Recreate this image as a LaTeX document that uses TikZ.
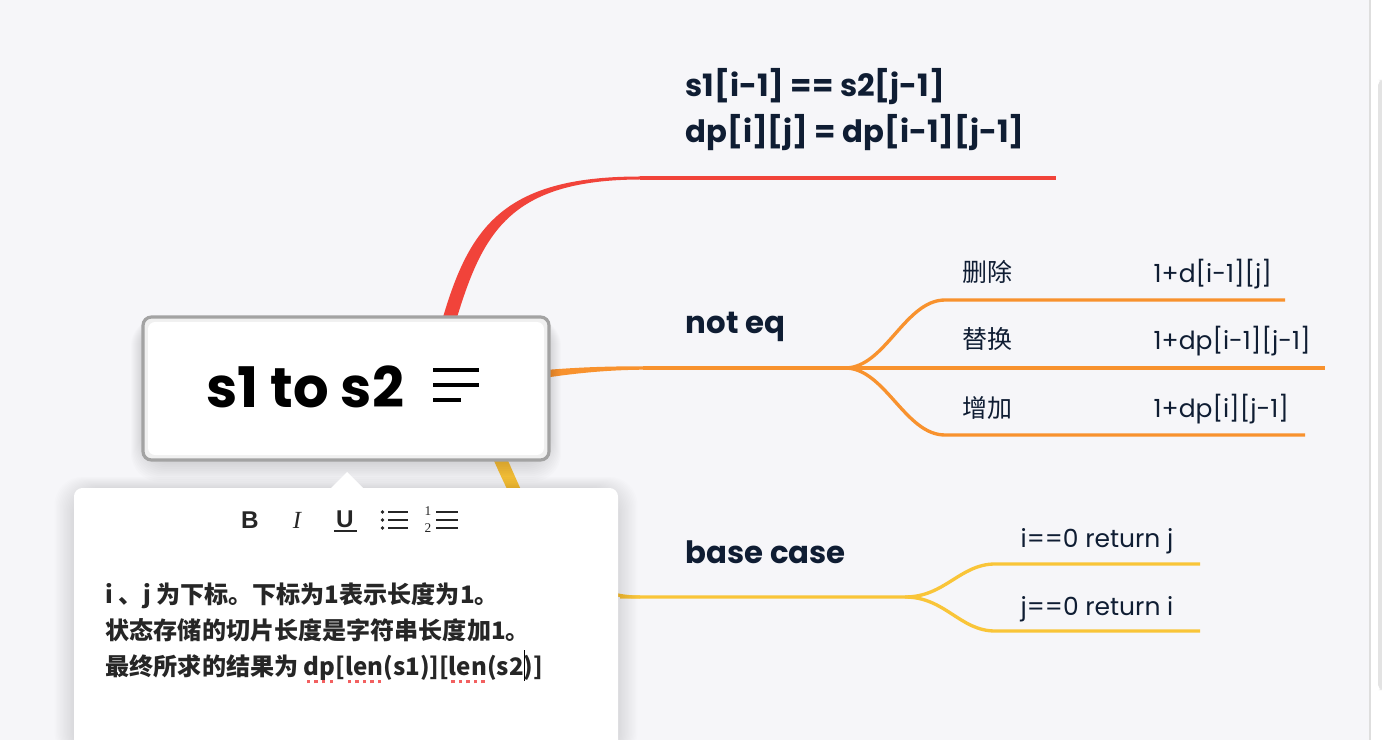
\documentclass[tikz,border=0pt]{standalone}
\usepackage{fontspec}
\setmainfont{Poppins}
\newfontfamily\cjk{Noto Sans CJK SC}
\newfontfamily\uisans{Liberation Sans}
\newfontfamily\uiserif{Liberation Serif}
\usetikzlibrary{positioning}
\definecolor{bgc}{HTML}{F6F6F9}
\definecolor{redc}{HTML}{F1433A}
\definecolor{orangec}{HTML}{F8922E}
\definecolor{yellowc}{HTML}{F9C539}
\definecolor{inkc}{HTML}{0F1D33}
\definecolor{framec}{HTML}{A3A3A3}
\definecolor{typored}{HTML}{F26060}

% spell-check dots under a word
\newcommand\typo[1]{\setbox0=\hbox{#1}\rlap{\raisebox{-2.4pt}{\color{typored}\hbox to \wd0{\xleaders\hbox to 1.9pt{\hss\vrule width 1pt height 1pt\hss}\hfil}}}\box0}
\newcommand\caret{\rlap{\color{black}\vrule width 0.3pt height 7pt depth 1.6pt}}

\tikzset{
  heading/.style={anchor=base west, inner sep=0, text=inkc, font=\fontsize{8.75}{11}\selectfont\bfseries},
  leaf/.style={anchor=base west, inner sep=0, text=inkc, font=\fontsize{7.1}{9}\selectfont},
  note/.style={anchor=base west, inner sep=0, text=black!85, font=\cjk\bfseries\fontsize{6.85}{9}\selectfont},
  tool/.style={inner sep=0, text=black!85},
  branch/.style={line width=0.95pt},
}

\begin{document}
\begin{tikzpicture}[x=0.01cm, y=-0.01cm]
\useasboundingbox (0,0) rectangle (1382,740);
% canvas and scroll bar
\fill[bgc] (0,0) rectangle (1370,740);
\fill[white!97!bgc] (1370,0) rectangle (1382,740);
\draw[black!13, line width=0.3pt] (1370,0) -- (1370,740);
\fill[black!11, rounded corners=1.5pt] (1378,80) rectangle (1384,690);

% branch points
\coordinate (eqa) at (640,178);
\coordinate (eqb) at (1056,178);
\coordinate (neqa) at (643,368);
\coordinate (neqfork) at (845,368);
\coordinate (basea) at (620,597);
\coordinate (basefork) at (905,597);

% red branch
\fill[redc] (441,324) .. controls (468,230) and (500,176.5) .. (640,176.5)
  -- (640,179.5) .. controls (508,180) and (482,234) .. (455,324) -- cycle;
\draw[redc, branch] (eqa) -- (eqb);

% orange branch
\fill[orangec] (540,370.5) .. controls (580,367) and (610,366.3) .. (643,366.3)
  -- (643,369.7) .. controls (610,370) and (580,372.5) .. (540,378.5) -- cycle;
\draw[orangec, branch] (neqa) -- (1325,368);
\draw[orangec, branch] (neqfork) .. controls (885,368) and (905,300) .. (945,300) -- (1285,300);
\draw[orangec, branch] (neqfork) .. controls (885,368) and (905,435) .. (945,435) -- (1305,435);

% yellow branch
\fill[yellowc] (501,445) .. controls (535,520) and (560,595.5) .. (640,595.5)
  -- (640,598.5) .. controls (555,599) and (520,520) .. (487,445) -- cycle;
\draw[yellowc, branch] (basea) -- (basefork) .. controls (945,597) and (960,564) .. (995,564) -- (1200,564);
\draw[yellowc, branch] (basefork) .. controls (945,597) and (960,631) .. (995,631) -- (1200,631);

% root topic
\foreach \s in {1,...,12}
  \fill[black, opacity=0.012, rounded corners=8pt] (143-\s,318) rectangle (549+\s,460+1.8*\s);
\draw[framec, line width=0.9pt, fill=black!6, rounded corners=2.4pt] (143,317) rectangle (549,460);
\fill[white, rounded corners=2pt] (148,322) rectangle (544,455);
\node[anchor=base west, inner sep=0, font=\fontsize{15.9}{18}\selectfont\bfseries] (root) at (206,407) {s1 to s2};
\foreach \y/\len in {370/479, 385/479, 400/461}
  \draw[line width=1pt] (433,\y) -- (\len,\y);

% labels
\node[heading] (eq1) at (685,97) {s1[i-1] == s2[j-1]};
\node[heading] (eq2) at (685,143) {dp[i][j] = dp[i-1][j-1]};
\node[heading] (neq) at (685,334) {not eq};
\node[heading] (base) at (685,563) {base case};
\node[leaf] (del) at (962,282) {\cjk 删除};
\node[leaf] (delv) at (1153,283) {1+d[i-1][j]};
\node[leaf] (rep) at (962,349) {\cjk 替换};
\node[leaf] (repv) at (1153,350) {1+dp[i-1][j-1]};
\node[leaf] (add) at (962,417) {\cjk 增加};
\node[leaf] (addv) at (1153,418) {1+dp[i][j-1]};
\node[leaf] (izero) at (1020,547) {i==0 return j};
\node[leaf] (jzero) at (1020,615) {j==0 return i};

% note popup
\foreach \s in {1,...,14}
  \fill[black, opacity=0.009, rounded corners=8pt] (74-1.4*\s,488-0.8*\s) rectangle (618+1.4*\s,760);
\fill[white, rounded corners=2.4pt] (74,488) rectangle (618,760);
\fill[white] (330,489) -- (347,472) -- (364,489) -- cycle;

% toolbar
\node[tool, font=\uisans\bfseries\fontsize{6.9}{8}\selectfont] (bold) at (250,520) {B};
\node[tool, font=\uiserif\itshape\fontsize{7}{8}\selectfont] (ital) at (297,520) {I};
\node[tool, font=\uisans\bfseries\fontsize{6.9}{8}\selectfont] (under) at (345,519) {U};
\draw[black!85, line width=0.55pt] (334,531) -- (357,531);
\foreach \y in {512,520,528} {
  \fill[black!85] (382.5,\y) circle (0.55pt);
  \draw[black!85, line width=0.55pt] (388,\y) -- (408,\y);
  \draw[black!85, line width=0.55pt] (436,\y) -- (458,\y);
}
\node[tool, font=\uiserif\fontsize{3.8}{4}\selectfont] (one) at (428,511) {1};
\node[tool, font=\uiserif\fontsize{3.8}{4}\selectfont] (two) at (428,528) {2};

% note text
\node[note] (line1) at (105,603) {i 、j 为下标。下标为1表示长度为1。};
\node[note] (line2) at (105,639) {状态存储的切片长度是字符串长度加1。};
\node[note] (line3) at (105,675) {最终所求的结果为 \typo{dp}[\typo{len}(s1)][\typo{len}(s2\caret)]};
\end{tikzpicture}
\end{document}
